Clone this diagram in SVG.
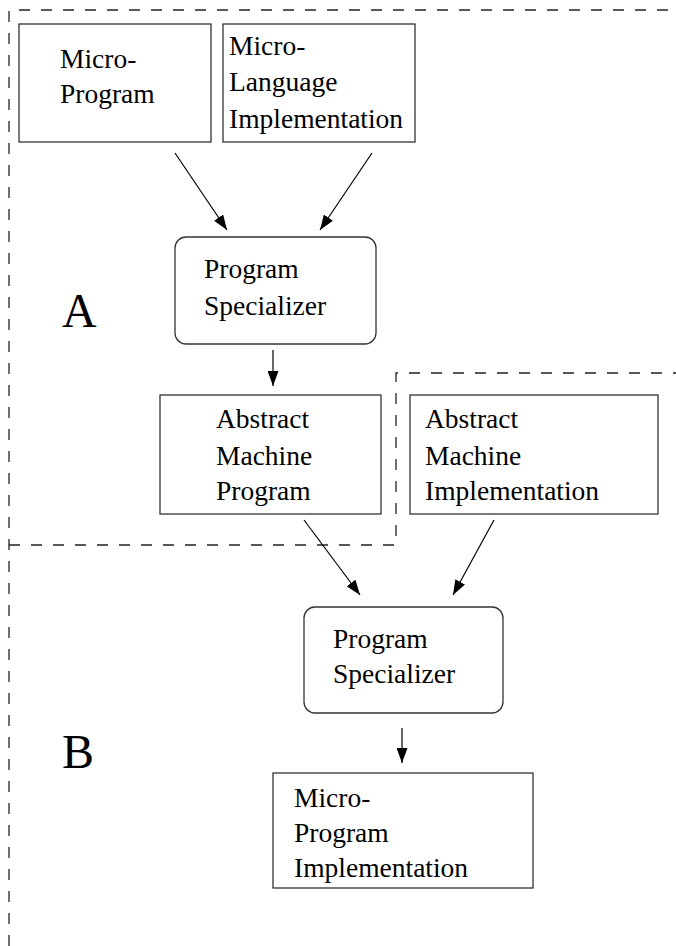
<svg xmlns="http://www.w3.org/2000/svg" width="676" height="946" viewBox="0 0 676 946">
<style>
.box{fill:#fff;stroke:#333;stroke-width:1.3}
.dash{fill:none;stroke:#222;stroke-width:1.3;stroke-dasharray:11 11}
.t{font-family:"Liberation Serif","Times New Roman",serif;font-size:27.5px;fill:#000}
.big{font-family:"Liberation Serif","Times New Roman",serif;font-size:48px;fill:#000}
.arr{stroke:#000;stroke-width:1.2;fill:none;marker-end:url(#ah)}
</style>
<defs>
<marker id="ah" markerUnits="userSpaceOnUse" markerWidth="16" markerHeight="11" refX="15" refY="5.5" orient="auto">
<path d="M0,0 L15,5.5 L0,11 z" fill="#000"/>
</marker>
</defs>
<rect width="676" height="946" fill="#fff"/>
<g id="regions">
<path class="dash" d="M9,946 V10 H676"/>
<path class="dash" d="M9,545 H396 V373 H676"/>
<text class="big" x="62" y="327">A</text>
<text class="big" x="62" y="768">B</text>
</g>
<g id="n1">
<rect class="box" x="19" y="24" width="192" height="118"/>
<text class="t" x="60" y="68">Micro-</text>
<text class="t" x="60" y="103">Program</text>
</g>
<g id="n2">
<rect class="box" x="223" y="24" width="192" height="118"/>
<text class="t" x="229" y="55">Micro-</text>
<text class="t" x="229" y="91">Language</text>
<text class="t" x="229" y="128">Implementation</text>
</g>
<g id="n3">
<rect class="box" x="175" y="237" width="201" height="107" rx="11"/>
<text class="t" x="204" y="278">Program</text>
<text class="t" x="204" y="315">Specializer</text>
</g>
<g id="n4">
<rect class="box" x="160" y="395" width="221" height="119"/>
<text class="t" x="216" y="428">Abstract</text>
<text class="t" x="216" y="465">Machine</text>
<text class="t" x="216" y="500">Program</text>
</g>
<g id="n5">
<rect class="box" x="410" y="395" width="248" height="119"/>
<text class="t" x="425" y="428">Abstract</text>
<text class="t" x="425" y="465">Machine</text>
<text class="t" x="425" y="500">Implementation</text>
</g>
<g id="n6">
<rect class="box" x="304" y="607" width="199" height="106" rx="11"/>
<text class="t" x="333" y="648">Program</text>
<text class="t" x="333" y="683">Specializer</text>
</g>
<g id="n7">
<rect class="box" x="273" y="773" width="260" height="115"/>
<text class="t" x="294" y="807">Micro-</text>
<text class="t" x="294" y="842">Program</text>
<text class="t" x="294" y="877">Implementation</text>
</g>
<g id="connectors">
<line class="arr" x1="175" y1="153" x2="227" y2="230"/>
<line class="arr" x1="372" y1="153" x2="320" y2="230"/>
<line class="arr" x1="273" y1="350" x2="273" y2="386"/>
<line class="arr" x1="304" y1="520" x2="360" y2="595"/>
<line class="arr" x1="494" y1="520" x2="453" y2="595"/>
<line class="arr" x1="402" y1="728" x2="402" y2="763"/>
</g>
</svg>
